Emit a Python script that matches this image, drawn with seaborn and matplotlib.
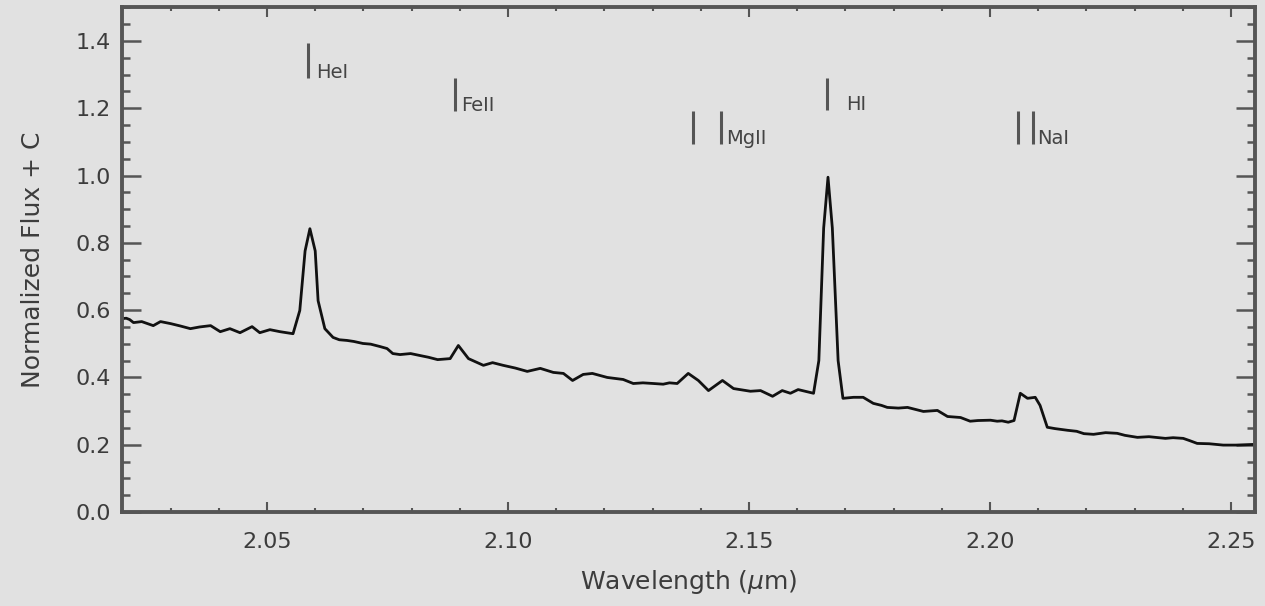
import matplotlib
matplotlib.use("Agg")
import matplotlib.pyplot as plt
from matplotlib.ticker import MultipleLocator, FormatStrFormatter
import numpy as np
import pandas as pd
import seaborn as sns

# spectrum
wavelength = [2.0200, 2.0208, 2.0215, 2.0223, 2.0240, 2.0264, 2.0279, 2.0300, 2.0320, 2.0341,
              2.0360, 2.0383, 2.0403, 2.0423, 2.0444, 2.0469, 2.0485, 2.0506, 2.0527, 2.0554,
              2.0568, 2.0579, 2.0589, 2.0600, 2.0606, 2.0620, 2.0637, 2.0650, 2.0666, 2.0680,
              2.0699, 2.0715, 2.0734, 2.0749, 2.0761, 2.0776, 2.0798, 2.0818, 2.0835, 2.0854,
              2.0880, 2.0897, 2.0918, 2.0949, 2.0968, 2.0990, 2.1015, 2.1040, 2.1067, 2.1094,
              2.1115, 2.1134, 2.1156, 2.1175, 2.1206, 2.1239, 2.1260, 2.1280, 2.1302, 2.1322,
              2.1335, 2.1351, 2.1374, 2.1395, 2.1416, 2.1445, 2.1468, 2.1503, 2.1524, 2.1549,
              2.1569, 2.1586, 2.1602, 2.1634, 2.1645, 2.1655, 2.1664, 2.1673, 2.1685, 2.1695,
              2.1717, 2.1737, 2.1758, 2.1775, 2.1787, 2.1810, 2.1829, 2.1862, 2.1891, 2.1912,
              2.1939, 2.1959, 2.1975, 2.2001, 2.2015, 2.2025, 2.2038, 2.2050, 2.2063, 2.2078,
              2.2094, 2.2104, 2.2119, 2.2135, 2.2161, 2.2180, 2.2195, 2.2215, 2.2240, 2.2264,
              2.2280, 2.2306, 2.2330, 2.2364, 2.2380, 2.2401, 2.2415, 2.2430, 2.2455, 2.2484,
              2.2510, 2.2546]
flux = [0.575, 0.576, 0.572, 0.563, 0.566, 0.554, 0.566, 0.560, 0.553, 0.545,
        0.550, 0.554, 0.536, 0.545, 0.533, 0.551, 0.533, 0.542, 0.536, 0.530,
        0.599, 0.776, 0.842, 0.776, 0.628, 0.545, 0.519, 0.512, 0.510, 0.507,
        0.501, 0.499, 0.492, 0.486, 0.471, 0.468, 0.471, 0.465, 0.460, 0.453,
        0.456, 0.495, 0.456, 0.436, 0.444, 0.436, 0.428, 0.418, 0.427, 0.415,
        0.412, 0.391, 0.409, 0.412, 0.400, 0.394, 0.382, 0.384, 0.382, 0.380,
        0.384, 0.382, 0.412, 0.391, 0.361, 0.391, 0.367, 0.359, 0.361, 0.344,
        0.361, 0.353, 0.364, 0.353, 0.450, 0.844, 0.995, 0.844, 0.450, 0.338,
        0.341, 0.341, 0.323, 0.317, 0.311, 0.309, 0.311, 0.299, 0.302, 0.284,
        0.281, 0.270, 0.272, 0.273, 0.270, 0.271, 0.267, 0.272, 0.353, 0.338,
        0.341, 0.317, 0.252, 0.248, 0.243, 0.240, 0.233, 0.231, 0.236, 0.234,
        0.228, 0.222, 0.224, 0.219, 0.221, 0.219, 0.212, 0.204, 0.203, 0.199,
        0.199, 0.201]

# line identification marks
bar_wave = [2.0586, 2.0891, 2.1383, 2.1441, 2.1661, 2.2059, 2.2089]
bar_top = [1.393, 1.289, 1.191, 1.191, 1.289, 1.191, 1.191]
bar_bottom = [1.289, 1.191, 1.093, 1.093, 1.194, 1.093, 1.093]
line_labels = ["HeI", "FeII", "MgII", "HI", "NaI"]
label_wave = [2.0601, 2.0902, 2.1452, 2.1702, 2.2097]
label_y = [1.289, 1.191, 1.093, 1.194, 1.093]

bg = "#e1e1e1"
ink = "#3c3c3c"

sns.set_style("ticks")
plt.rcParams["font.family"] = ["DejaVu Sans"]

df = pd.DataFrame({"wave": wavelength, "flux": flux})

fig = plt.figure(figsize=(12.65, 6.06), dpi=100, facecolor=bg)
ax = fig.add_axes([0.0964, 0.155, 0.8957, 0.833])
ax.set_facecolor(bg)

sns.lineplot(data=df, x="wave", y="flux", color="#111111", linewidth=2.0,
             sort=False, estimator=None, ax=ax)

ax.vlines(bar_wave, bar_bottom, bar_top, color="#555555", linewidth=2.2)
for name, xw, yy in zip(line_labels, label_wave, label_y):
    ax.text(xw, yy, name, fontsize=14, color="#444444", va="baseline", ha="left")

ax.set_xlim(2.0199, 2.2550)
ax.set_ylim(0.0, 1.5)

ax.xaxis.set_major_locator(MultipleLocator(0.05))
ax.xaxis.set_minor_locator(MultipleLocator(0.01))
ax.yaxis.set_major_locator(MultipleLocator(0.2))
ax.yaxis.set_minor_locator(MultipleLocator(0.05))
ax.xaxis.set_major_formatter(FormatStrFormatter("%.2f"))
ax.yaxis.set_major_formatter(FormatStrFormatter("%.1f"))

ax.tick_params(axis="x", which="major", direction="in", length=7, width=1.5,
               top=True, bottom=True, pad=14, labelsize=16, colors="#555555", labelcolor=ink)
ax.tick_params(axis="x", which="minor", direction="in", length=3, width=1.5,
               top=True, bottom=True, colors="#555555")
ax.tick_params(axis="y", which="major", direction="in", length=14, width=1.8,
               left=True, right=True, pad=8, labelsize=16, colors="#555555", labelcolor=ink)
ax.tick_params(axis="y", which="minor", direction="in", length=6, width=1.8,
               left=True, right=True, colors="#555555")

for sp in ax.spines.values():
    sp.set_visible(True)
    sp.set_linewidth(2.8)
    sp.set_color("#555555")

ax.set_xlabel(r"Wavelength ($\mu$m)", fontsize=18, color=ink, labelpad=12)
ax.set_ylabel("Normalized Flux + C", fontsize=18, color=ink, labelpad=22)

fig.savefig("out.png", dpi=100, facecolor=bg)
